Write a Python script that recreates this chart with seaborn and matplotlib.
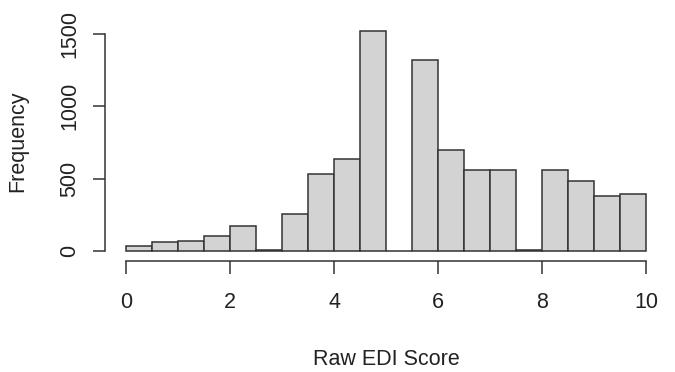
import numpy as np
import pandas as pd
import seaborn as sns
import matplotlib.pyplot as plt

# Bin edges (width 0.5) and counts
bin_left = np.arange(0, 10, 0.5)
counts = [35, 58, 70, 106, 171, 8, 252, 529, 635, 1520,
          0, 1318, 695, 561, 558, 5, 556, 485, 378, 392]

df = pd.DataFrame({"score": bin_left + 0.25, "count": counts})

sns.set_style("white")
plt.rcParams["font.family"] = ["Liberation Sans", "DejaVu Sans"]

fig = plt.figure(figsize=(6.75, 3.72), dpi=100)
ax = fig.add_axes([0.156, 0.302, 0.832, 0.638])

sns.histplot(data=df, x="score", weights="count", binwidth=0.5, binrange=(0, 10),
             color="#d3d3d3", alpha=1, edgecolor="#333333", linewidth=1.1, ax=ax)

ax.set_xlim(-0.4, 10.4)
ax.set_ylim(-61, 1581)

for s in ["top", "right"]:
    ax.spines[s].set_visible(False)
ax.spines["left"].set_bounds(0, 1500)
ax.spines["bottom"].set_bounds(0, 10)
ax.spines["left"].set_position(("outward", 0))
ax.spines["bottom"].set_position(("outward", 1))
for s in ["left", "bottom"]:
    ax.spines[s].set_color("#333333")
    ax.spines[s].set_linewidth(1.1)

ax.set_xticks([0, 2, 4, 6, 8, 10])
ax.set_yticks([0, 500, 1000, 1500])
ax.tick_params(axis="both", direction="out", length=9, width=1.1,
               color="#333333", labelsize=15.5, labelcolor="#222222",
               left=True, bottom=True)
ax.tick_params(axis="x", pad=13)
ax.tick_params(axis="y", pad=9)
plt.setp(ax.get_yticklabels(), rotation=90, va="center")

ax.set_xlabel("Raw EDI Score", fontsize=15.5, color="#222222", labelpad=26)
ax.set_ylabel("Frequency", fontsize=15.5, color="#222222", labelpad=22)

fig.savefig("out.png", dpi=100)
